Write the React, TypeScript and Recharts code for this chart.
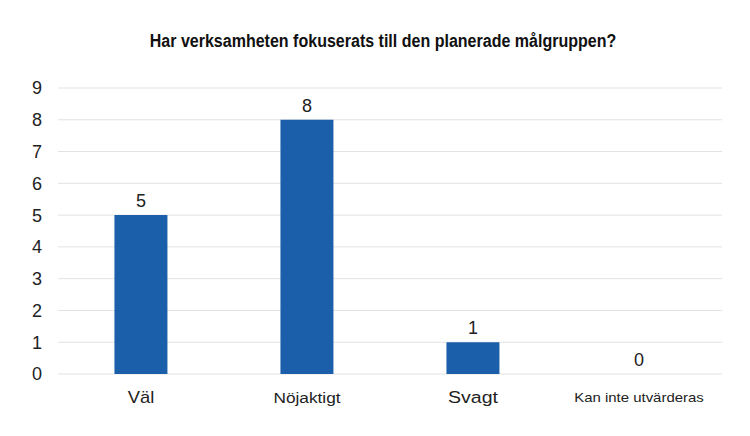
import { BarChart, Bar, XAxis, YAxis, CartesianGrid, ReferenceDot } from 'recharts';

const categories = ['Väl', 'Nöjaktigt', 'Svagt', 'Kan inte utvärderas'];
const counts = [5, 8, 1, 0];
const yTicks = [0, 1, 2, 3, 4, 5, 6, 7, 8, 9];

const data = categories.map((name, i) => ({ name, value: counts[i] }));

const FONT = 'Liberation Sans, Arial, sans-serif';

// the source renders each category label at a slightly different size
const tickFontSize: Record<string, number> = {
  'Väl': 16,
  'Nöjaktigt': 15,
  'Svagt': 17,
  'Kan inte utvärderas': 13,
};

const CategoryTick = ({ x, y, payload }: any) => (
  <text
    transform={`translate(${x}, ${y + 15}) scale(1.15, 1)`}
    textAnchor="middle"
    dominantBaseline="central"
    fill="#222"
    fontSize={tickFontSize[payload.value] ?? 14}
    fontFamily={FONT}
  >
    {payload.value}
  </text>
);

// value text above the bar top (LabelList skips zero-height bars)
const valueShape = (value: number) => (p: any) => (
  <text
    x={p.cx}
    y={p.cy - 8}
    textAnchor="middle"
    fill="#222"
    fontSize={18}
    fontFamily={FONT}
  >
    {value}
  </text>
);

export default function App() {
  return (
    <div style={{ position: 'absolute', left: 0, top: 0, width: 750, height: 436, background: '#fff' }}>
      <div
        style={{
          position: 'absolute',
          top: 31,
          left: 8,
          width: 750,
          textAlign: 'center',
          fontFamily: FONT,
          fontWeight: 'bold',
          fontSize: 18,
          color: '#111',
          transform: 'scaleX(0.89)',
        }}
      >
        Har verksamheten fokuserats till den planerade målgruppen?
      </div>
      <BarChart
        width={750}
        height={436}
        data={data}
        margin={{ top: 88, right: 28, bottom: 32, left: 0 }}
        barCategoryGap="34%"
      >
        <CartesianGrid vertical={false} stroke="#e2e2e2" />
        <XAxis
          dataKey="name"
          height={30}
          axisLine={false}
          tickLine={false}
          interval={0}
          tick={<CategoryTick />}
        />
        <YAxis
          width={58}
          domain={[0, 9]}
          ticks={yTicks}
          interval={0}
          axisLine={false}
          tickLine={false}
          tickMargin={10}
          tick={{ fontSize: 18, fill: '#222', fontFamily: FONT }}
        />
        <Bar dataKey="value" fill="#1b5fab" isAnimationActive={false} />
        {data.map((d) => (
          <ReferenceDot
            key={d.name}
            x={d.name}
            y={d.value}
            r={0}
            ifOverflow="visible"
            shape={valueShape(d.value)}
          />
        ))}
      </BarChart>
    </div>
  );
}
